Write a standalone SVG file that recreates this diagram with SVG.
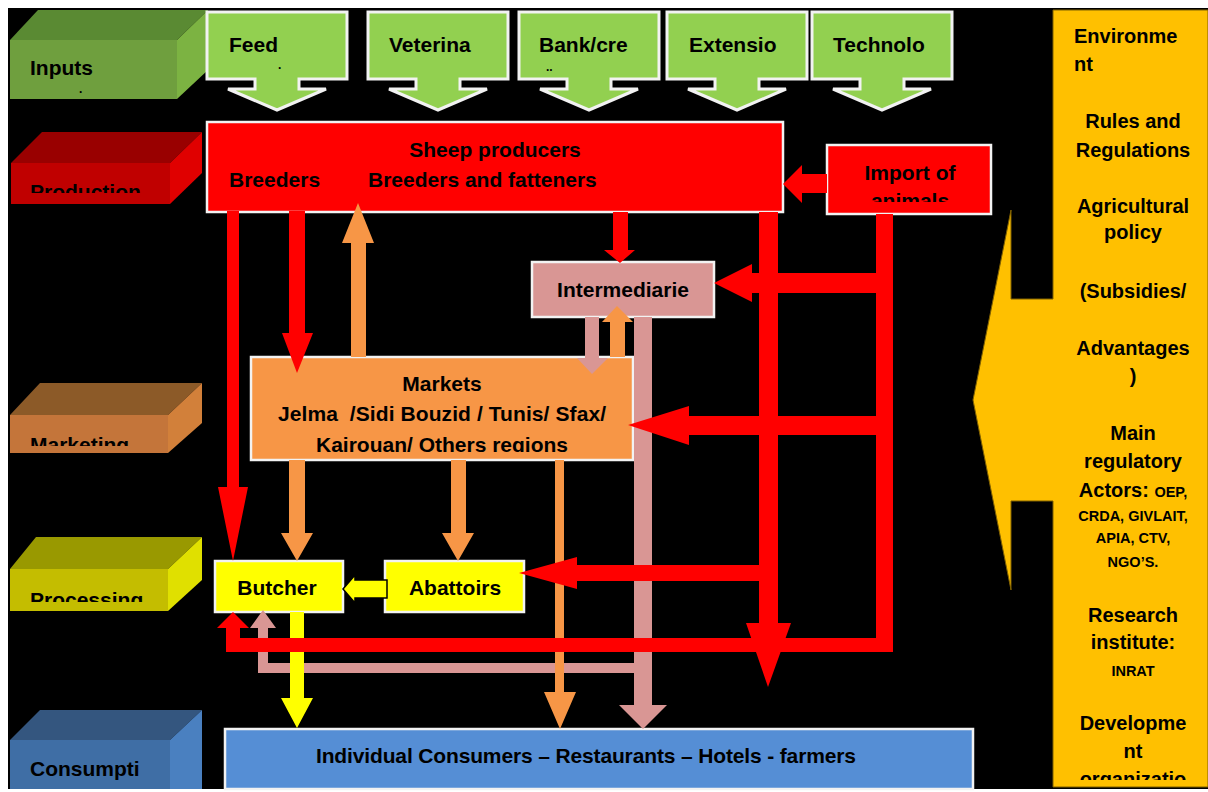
<svg xmlns="http://www.w3.org/2000/svg" width="1208" height="792" viewBox="0 0 1208 792">
<defs>
<style>
.t{font-family:"Liberation Sans",Arial,sans-serif;font-weight:bold;fill:#000;font-size:21px}
.p{font-family:"Liberation Sans",Arial,sans-serif;font-weight:bold;fill:#000;font-size:20px}
.s{font-size:14.5px}
.d{font-size:12px}
.box{stroke:#f2f2f2;stroke-width:2.5}
.inp{fill:#92d050;stroke:#f2f2f2;stroke-width:3}
.red{fill:#ff0000}
.org{fill:#f79646}
.pink{fill:#d99694}
.yel{fill:#ffff00}
.m{text-anchor:middle}
</style>
<clipPath id="cProd"><rect x="0" y="0" width="210" height="193"/></clipPath>
<clipPath id="cMark"><rect x="0" y="0" width="210" height="446"/></clipPath>
<clipPath id="cProc"><rect x="0" y="0" width="210" height="602"/></clipPath>
<clipPath id="cImp"><rect x="827" y="145" width="164" height="57"/></clipPath>
<clipPath id="cMkt"><rect x="251" y="357" width="382" height="95"/></clipPath>
<clipPath id="cPan"><rect x="1053" y="0" width="155" height="780"/></clipPath>
</defs>
<rect x="0" y="0" width="1208" height="792" fill="#ffffff"/>
<rect x="8" y="8" width="1200" height="781" fill="#000000"/>

<g id="stage-inputs">
<polygon points="10,40 38,10 208,10 177,40" fill="#5a8a33"/>
<polygon points="177,40 208,10 208,70 177,99" fill="#7cb342"/>
<rect x="10" y="40" width="167" height="59" fill="#6f9f3e"/>
<text class="t" x="30" y="75">Inputs</text>
<text class="t d" x="79" y="93">.</text>
</g>
<g id="stage-production">
<polygon points="11,163 42,132 202,132 170,163" fill="#990000"/>
<polygon points="170,163 202,132 202,173 170,204" fill="#e00000"/>
<rect x="11" y="163" width="159" height="41" fill="#c00000"/>
<text class="t" x="30" y="199" clip-path="url(#cProd)">Production</text>
</g>
<g id="stage-marketing">
<polygon points="10,415 40,383 202,383 168,415" fill="#8c5a28"/>
<polygon points="168,415 202,383 202,423 168,453" fill="#d2803a"/>
<rect x="10" y="415" width="158" height="38" fill="#c4753a"/>
<text class="t" x="30" y="452" clip-path="url(#cMark)">Marketing</text>
</g>
<g id="stage-processing">
<polygon points="10,569 36,537 202,537 168,569" fill="#999900"/>
<polygon points="168,569 202,537 202,580 168,611" fill="#e0e000"/>
<rect x="10" y="569" width="158" height="42" fill="#c4bd00"/>
<text class="t" x="30" y="607" clip-path="url(#cProc)">Processing</text>
</g>
<g id="stage-consumption">
<polygon points="10,740 40,710 202,710 170,740" fill="#34567f"/>
<polygon points="170,740 202,710 202,789 170,789" fill="#4a80c0"/>
<rect x="10" y="740" width="160" height="49" fill="#3f6ea5"/>
<text class="t" x="30" y="776">Consumpti</text>
</g>

<g id="environment-panel">
<polygon points="1053,10 1208,10 1208,787 1053,787 1053,501 1011,501 1011,590 973,400 1011,210 1011,299 1053,299" fill="#ffc000" stroke="#7f6000" stroke-width="1"/>
<g class="p">
<text x="1074" y="43">Environme</text>
<text x="1074" y="71">nt</text>
<text class="m" x="1133" y="128">Rules and</text>
<text class="m" x="1133" y="157">Regulations</text>
<text class="m" x="1133" y="213">Agricultural</text>
<text class="m" x="1133" y="239">policy</text>
<text class="m" x="1133" y="298">(Subsidies/</text>
<text class="m" x="1133" y="355">Advantages</text>
<text class="m" x="1133" y="383">)</text>
<text class="m" x="1133" y="440">Main</text>
<text class="m" x="1133" y="468">regulatory</text>
<text class="m" x="1133" y="497">Actors: <tspan class="s">OEP,</tspan></text>
<text class="m s" x="1133" y="521">CRDA, GIVLAIT,</text>
<text class="m s" x="1133" y="543">APIA, CTV,</text>
<text class="m s" x="1133" y="567">NGO’S.</text>
<text class="m" x="1133" y="622">Research</text>
<text class="m" x="1133" y="649">institute:</text>
<text class="m s" x="1133" y="676">INRAT</text>
<text class="m" x="1133" y="730">Developme</text>
<text class="m" x="1133" y="758">nt</text>
<text class="m" x="1133" y="786" clip-path="url(#cPan)">organizatio</text>
</g>
</g>

<g id="input-feed">
<polygon class="inp" points="207,12 347,12 347,79 299,79 299,89 326,89 277,110 228,89 255,89 255,79 207,79"/>
<text class="t" x="229" y="52">Feed</text>
<text class="t d" x="278" y="69">.</text>
</g>
<g id="input-veterinary">
<polygon class="inp" points="368,12 508,12 508,79 460,79 460,89 487,89 438,110 389,89 416,89 416,79 368,79"/>
<text class="t" x="389" y="52">Veterina</text>
</g>
<g id="input-bank">
<polygon class="inp" points="519,12 659,12 659,79 611,79 611,89 638,89 589,110 540,89 567,89 567,79 519,79"/>
<text class="t" x="539" y="52">Bank/cre</text>
<text class="t d" x="546" y="71">..</text>
</g>
<g id="input-extension">
<polygon class="inp" points="667,12 807,12 807,79 759,79 759,89 786,89 737,110 688,89 715,89 715,79 667,79"/>
<text class="t" x="689" y="52">Extensio</text>
</g>
<g id="input-technology">
<polygon class="inp" points="812,12 952,12 952,79 904,79 904,89 931,89 882,110 833,89 860,89 860,79 812,79"/>
<text class="t" x="833" y="52">Technolo</text>
</g>

<g id="sheep-producers">
<rect class="box red" x="207" y="122" width="576" height="90"/>
<text class="t m" x="495" y="157">Sheep producers</text>
<text class="t" x="229" y="187">Breeders</text>
<text class="t" x="368" y="187">Breeders and fatteners</text>
</g>
<g id="import-animals">
<rect class="box red" x="827" y="145" width="164" height="69"/>
<text class="t m" x="910" y="180">Import of</text>
<text class="t m" x="910" y="208" clip-path="url(#cImp)">animals</text>
</g>
<g id="intermediarie">
<rect class="box pink" x="532" y="262" width="182" height="55"/>
<text class="t m" x="623" y="297">Intermediarie</text>
</g>
<g id="markets">
<rect class="box org" x="251" y="357" width="382" height="103"/>
<text class="t m" x="442" y="391">Markets</text>
<text class="t m" x="442" y="421" xml:space="preserve" textLength="328">Jelma  /Sidi Bouzid / Tunis/ Sfax/</text>
<text class="t m" x="442" y="452" clip-path="url(#cMkt)">Kairouan/ Others regions</text>
</g>
<g id="butcher">
<rect class="box yel" x="215" y="561" width="128" height="51"/>
<text class="t m" x="277" y="595">Butcher</text>
</g>
<g id="abattoirs">
<rect class="box yel" x="385" y="561" width="139" height="51"/>
<text class="t m" x="455" y="595">Abattoirs</text>
</g>
<g id="consumers">
<rect class="box" fill="#558ed5" x="225" y="729" width="748" height="60"/>
<text class="t m" x="586" y="763" textLength="540">Individual Consumers – Restaurants – Hotels - farmers</text>
</g>

<g id="connectors">
<polygon class="pink" points="634,317 652,317 652,705 667,705 643,729 619,705 634,705"/>
<polygon class="pink" points="634,663 268,663 268,628 276,628 263,610 250,628 258,628 258,673 634,673"/>
<polygon class="org" points="555,460 564,460 564,692 576,692 560,729 544,692 555,692"/>
<polygon class="pink" points="585,317 599,317 599,358 608,358 592,374 577,358 585,358"/>
<polygon class="org" points="610,357 625,357 625,322 633,322 617,306 602,322 610,322"/>
<polygon class="org" points="351,357 366,357 366,243 374,243 358,203 342,243 351,243"/>
<polygon class="org" points="289,460 305,460 305,533 313,533 297,561 281,533 289,533"/>
<polygon class="org" points="451,460 466,460 466,533 474,533 458,561 442,533 451,533"/>
<polygon class="yel" points="290,612 304,612 304,698 313,698 297,728 281,698 290,698"/>
<polygon class="yel" points="387,580 355,580 355,575 343,589 355,603 355,598 387,598" stroke="#000" stroke-width="1.5"/>
<polygon class="red" points="227,211 239,211 239,487 248,487 233,561 218,487 227,487"/>
<polygon class="red" points="289,211 305,211 305,333 313,333 297,373 282,333 289,333"/>
<polygon class="red" points="613,212 628,212 628,250 635,250 620,263 604,250 613,250"/>
<polygon class="red" points="827,174 802,174 802,165 783,184 802,203 802,193 827,193"/>
<polygon class="red" points="876,214 893,214 893,652 240,652 240,628 249,628 233,612 217,628 226,628 226,638 876,638"/>
<rect class="red" x="226" y="628" width="14" height="24"/>
<polygon class="red" points="759,212 778,212 778,623 791,623 768,687 746,623 759,623"/>
<polygon class="red" points="876,273 752,273 752,264 714,283 752,302 752,293 876,293"/>
<polygon class="red" points="876,416 689,416 689,406 628,425 689,445 689,435 876,435"/>
<polygon class="red" points="759,565 577,565 577,557 519,573 577,589 577,581 759,581"/>
</g>
</svg>
